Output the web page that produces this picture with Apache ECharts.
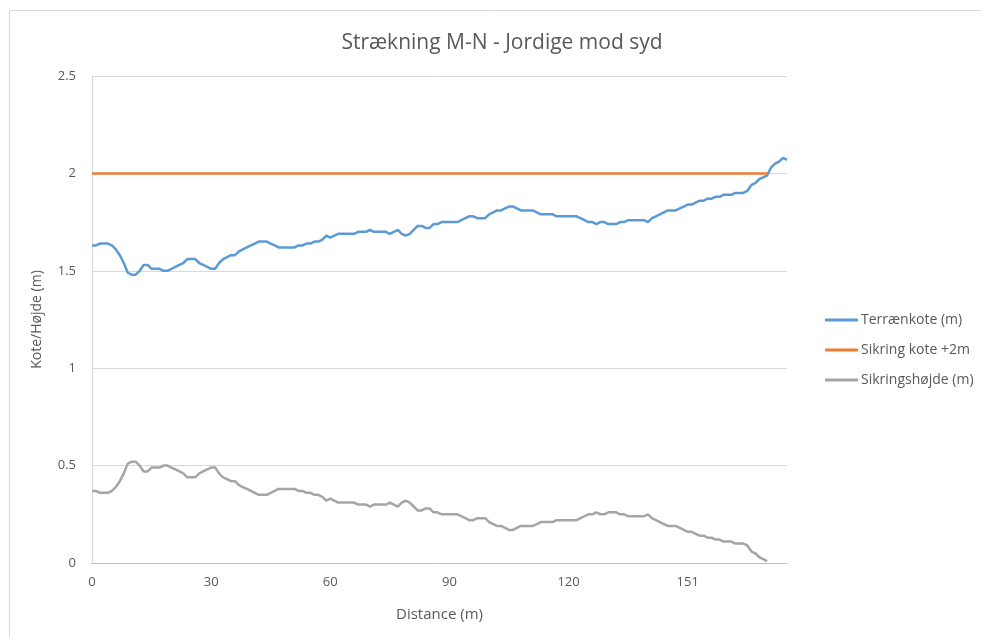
<!DOCTYPE html>
<html>
<head>
<meta charset="utf-8">
<script src="https://cdn.jsdelivr.net/npm/echarts@6/dist/echarts.min.js"></script>
<style>
  html, body { margin: 0; padding: 0; background: #fff; }
  #chart { width: 981px; height: 637px; }
</style>
</head>
<body>
<div id="chart"></div>
<script>
// distance along the stretch (m), one category per measurement
const distances = [
  0, 1, 2, 3, 4, 5, 6, 7, 8, 9, 10, 11, 12, 13, 14, 15, 16, 17, 18, 19,
  20, 21, 22, 23, 24, 25, 26, 27, 28, 29, 30, 31, 32, 33, 34, 35, 36, 37, 38, 39,
  40, 41, 42, 43, 44, 45, 46, 47, 48, 49, 50, 51, 52, 53, 54, 55, 56, 57, 58, 59,
  60, 61, 62, 63, 64, 65, 66, 67, 68, 69, 70, 71, 72, 73, 74, 75, 76, 77, 78, 79,
  80, 81, 82, 83, 84, 85, 86, 87, 88, 89, 90, 91, 92, 93, 94, 95, 96, 97, 98, 99,
  100, 101, 102, 103, 104, 105, 106, 107, 108, 109, 110, 111, 112, 113, 114, 115, 116, 117, 118, 119,
  120, 121, 122, 123, 124, 126, 127, 128, 129, 130, 131, 132, 133, 134, 135, 136, 137, 138, 139, 140,
  141, 142, 143, 144, 145, 146, 147, 148, 149, 150, 151, 152, 153, 154, 155, 156, 157, 158, 159, 160,
  161, 162, 163, 164, 165, 166, 167, 168, 169, 170, 171, 172, 173, 174, 175, 176
];

const terraenkote = [
  1.63, 1.63, 1.64, 1.64, 1.64, 1.63, 1.61, 1.58, 1.54, 1.49, 1.48, 1.48, 1.50, 1.53, 1.53, 1.51, 1.51, 1.51, 1.50, 1.50,
  1.51, 1.52, 1.53, 1.54, 1.56, 1.56, 1.56, 1.54, 1.53, 1.52, 1.51, 1.51, 1.54, 1.56, 1.57, 1.58, 1.58, 1.60, 1.61, 1.62,
  1.63, 1.64, 1.65, 1.65, 1.65, 1.64, 1.63, 1.62, 1.62, 1.62, 1.62, 1.62, 1.63, 1.63, 1.64, 1.64, 1.65, 1.65, 1.66, 1.68,
  1.67, 1.68, 1.69, 1.69, 1.69, 1.69, 1.69, 1.70, 1.70, 1.70, 1.71, 1.70, 1.70, 1.70, 1.70, 1.69, 1.70, 1.71, 1.69, 1.68,
  1.69, 1.71, 1.73, 1.73, 1.72, 1.72, 1.74, 1.74, 1.75, 1.75, 1.75, 1.75, 1.75, 1.76, 1.77, 1.78, 1.78, 1.77, 1.77, 1.77,
  1.79, 1.80, 1.81, 1.81, 1.82, 1.83, 1.83, 1.82, 1.81, 1.81, 1.81, 1.81, 1.80, 1.79, 1.79, 1.79, 1.79, 1.78, 1.78, 1.78,
  1.78, 1.78, 1.78, 1.77, 1.76, 1.75, 1.75, 1.74, 1.75, 1.75, 1.74, 1.74, 1.74, 1.75, 1.75, 1.76, 1.76, 1.76, 1.76, 1.76,
  1.75, 1.77, 1.78, 1.79, 1.80, 1.81, 1.81, 1.81, 1.82, 1.83, 1.84, 1.84, 1.85, 1.86, 1.86, 1.87, 1.87, 1.88, 1.88, 1.89,
  1.89, 1.89, 1.90, 1.90, 1.90, 1.91, 1.94, 1.95, 1.97, 1.98, 1.99, 2.03, 2.05, 2.06, 2.08, 2.07
];

const sikringKote = [
  2, 2, 2, 2, 2, 2, 2, 2, 2, 2, 2, 2, 2, 2, 2, 2, 2, 2, 2, 2,
  2, 2, 2, 2, 2, 2, 2, 2, 2, 2, 2, 2, 2, 2, 2, 2, 2, 2, 2, 2,
  2, 2, 2, 2, 2, 2, 2, 2, 2, 2, 2, 2, 2, 2, 2, 2, 2, 2, 2, 2,
  2, 2, 2, 2, 2, 2, 2, 2, 2, 2, 2, 2, 2, 2, 2, 2, 2, 2, 2, 2,
  2, 2, 2, 2, 2, 2, 2, 2, 2, 2, 2, 2, 2, 2, 2, 2, 2, 2, 2, 2,
  2, 2, 2, 2, 2, 2, 2, 2, 2, 2, 2, 2, 2, 2, 2, 2, 2, 2, 2, 2,
  2, 2, 2, 2, 2, 2, 2, 2, 2, 2, 2, 2, 2, 2, 2, 2, 2, 2, 2, 2,
  2, 2, 2, 2, 2, 2, 2, 2, 2, 2, 2, 2, 2, 2, 2, 2, 2, 2, 2, 2,
  2, 2, 2, 2, 2, 2, 2, 2, 2, 2, 2
];

const sikringshoejde = [
  0.37, 0.37, 0.36, 0.36, 0.36, 0.37, 0.39, 0.42, 0.46, 0.51, 0.52, 0.52, 0.50, 0.47, 0.47, 0.49, 0.49, 0.49, 0.50, 0.50,
  0.49, 0.48, 0.47, 0.46, 0.44, 0.44, 0.44, 0.46, 0.47, 0.48, 0.49, 0.49, 0.46, 0.44, 0.43, 0.42, 0.42, 0.40, 0.39, 0.38,
  0.37, 0.36, 0.35, 0.35, 0.35, 0.36, 0.37, 0.38, 0.38, 0.38, 0.38, 0.38, 0.37, 0.37, 0.36, 0.36, 0.35, 0.35, 0.34, 0.32,
  0.33, 0.32, 0.31, 0.31, 0.31, 0.31, 0.31, 0.30, 0.30, 0.30, 0.29, 0.30, 0.30, 0.30, 0.30, 0.31, 0.30, 0.29, 0.31, 0.32,
  0.31, 0.29, 0.27, 0.27, 0.28, 0.28, 0.26, 0.26, 0.25, 0.25, 0.25, 0.25, 0.25, 0.24, 0.23, 0.22, 0.22, 0.23, 0.23, 0.23,
  0.21, 0.20, 0.19, 0.19, 0.18, 0.17, 0.17, 0.18, 0.19, 0.19, 0.19, 0.19, 0.20, 0.21, 0.21, 0.21, 0.21, 0.22, 0.22, 0.22,
  0.22, 0.22, 0.22, 0.23, 0.24, 0.25, 0.25, 0.26, 0.25, 0.25, 0.26, 0.26, 0.26, 0.25, 0.25, 0.24, 0.24, 0.24, 0.24, 0.24,
  0.25, 0.23, 0.22, 0.21, 0.20, 0.19, 0.19, 0.19, 0.18, 0.17, 0.16, 0.16, 0.15, 0.14, 0.14, 0.13, 0.13, 0.12, 0.12, 0.11,
  0.11, 0.11, 0.10, 0.10, 0.10, 0.09, 0.06, 0.05, 0.03, 0.02, 0.01
];

const yTicks = { min: 0, max: 2.5, step: 0.5 };

const chart = echarts.init(document.getElementById('chart'));
const textColor = '#595959';
const font = 'Open Sans, sans-serif';

const lineSeries = (name, data, color) => ({
  name: name,
  type: 'line',
  data: data,
  showSymbol: false,
  symbol: 'none',
  lineStyle: { color: color, width: 2.5 },
  itemStyle: { color: color },
  animation: false
});

chart.setOption({
  backgroundColor: '#fff',
  textStyle: { fontFamily: font },
  graphic: [{
    type: 'rect',
    shape: { x: 9.5, y: 10.5, width: 1000, height: 700 },
    style: { fill: 'none', stroke: '#d9d9d9', lineWidth: 1 },
    silent: true
  }],
  title: {
    text: 'Strækning M-N - Jordige mod syd',
    left: 497,
    textAlign: 'center',
    top: 28,
    textStyle: { fontFamily: font, fontSize: 21, fontWeight: 'normal', color: textColor }
  },
  legend: {
    orient: 'vertical',
    left: 825,
    top: 313,
    padding: 0,
    itemWidth: 33,
    itemHeight: 3,
    itemGap: 16,
    icon: 'rect',
    textStyle: { fontFamily: font, fontSize: 14, color: textColor, padding: [0, 0, 0, -2] },
    data: ['Terrænkote (m)', 'Sikring kote +2m', 'Sikringshøjde (m)']
  },
  grid: { left: 92, top: 76, right: 194, bottom: 74 },
  xAxis: {
    type: 'category',
    data: distances,
    boundaryGap: false,
    name: 'Distance (m)',
    nameLocation: 'middle',
    nameGap: 44,
    nameTextStyle: { fontFamily: font, fontSize: 15, color: textColor },
    axisLine: { lineStyle: { color: '#bfbfbf', width: 1 } },
    axisTick: { show: false },
    axisLabel: { interval: 29, margin: 13, fontSize: 13, color: textColor, fontFamily: font },
    splitLine: { show: false }
  },
  yAxis: {
    type: 'value',
    min: yTicks.min,
    max: yTicks.max,
    interval: yTicks.step,
    name: 'Kote/Højde (m)',
    nameLocation: 'middle',
    nameGap: 48,
    nameTextStyle: { fontFamily: font, fontSize: 14, color: textColor },
    axisLine: { show: true, lineStyle: { color: '#d9d9d9', width: 1 } },
    axisTick: { show: false },
    axisLabel: { margin: 16, fontSize: 13, color: textColor, fontFamily: font },
    splitLine: { lineStyle: { color: '#d9d9d9', width: 1 } }
  },
  series: [
    lineSeries('Terrænkote (m)', terraenkote, '#5b9bd5'),
    lineSeries('Sikring kote +2m', sikringKote, '#ed7d31'),
    lineSeries('Sikringshøjde (m)', sikringshoejde, '#a5a5a5')
  ]
});

window.addEventListener('resize', () => {
  chart.resize();
});
</script>
</body>
</html>
